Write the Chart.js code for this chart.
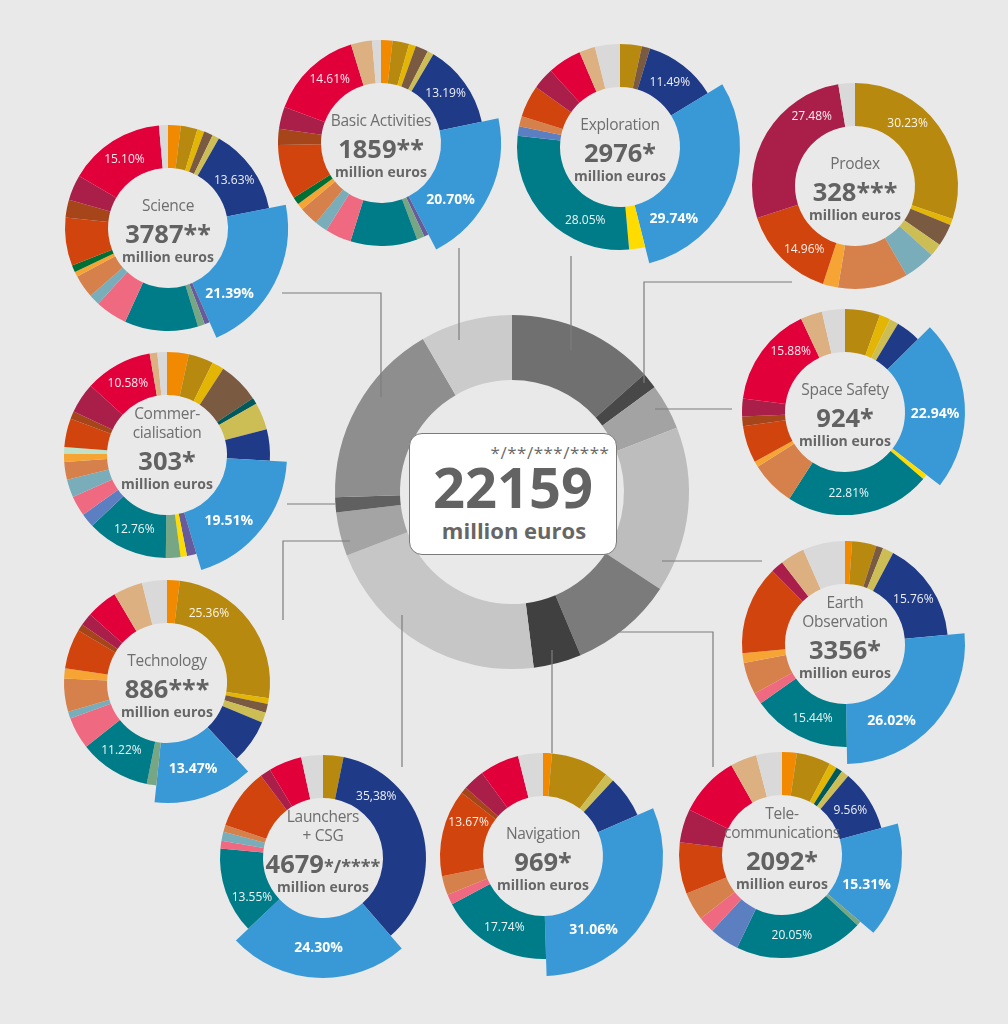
<!DOCTYPE html>
<html>
<head>
<meta charset="utf-8">
<script src="https://cdn.jsdelivr.net/npm/chart.js@4/dist/chart.umd.min.js"></script>
<style>
  body { margin: 0; background: #e9e9e9; font-family: "Open Sans", "Noto Sans", sans-serif; }
  #wrap { position: relative; width: 1008px; height: 1024px; overflow: hidden; background: #e9e9e9; }
  canvas { position: absolute; }
  svg { position: absolute; left: 0; top: 0; }
  .t { position: absolute; transform: translate(-50%, -50%); white-space: nowrap; line-height: 1; color: #666; }
  #box { position: absolute; left: 409px; top: 433px; width: 206px; height: 120px; background: #fff;
         border: 1.5px solid #7a7a7a; border-radius: 13px; }
</style>
</head>
<body>
<div id="wrap"></div>
<script>
// contributors, in the order they go round every ring (clockwise from the top)
const contributors = Array.from({ length: 25 }, (_, i) => 'Contributor ' + (i + 1));

// domain totals, million euros (central ring)
const domainNames = ['Exploration', 'Prodex', 'Space Safety', 'Earth Observation', 'Telecommunications',
  'Navigation', 'Launchers + CSG', 'Technology', 'Commercialisation', 'Science', 'Basic Activities'];
const domainBudgets = [2976, 328, 924, 3356, 2092, 969, 4679, 886, 303, 3787, 1859];
const domainMarks = ['*', '***', '*', '*', '*', '*', '*/****', '***', '*', '**', '**'];
const grandTotal = 22159;

// shares per contributor (%) for each domain
const science =           [2.0, 2.6, 1.1, 1.4, 0, 1.1, 13.63, 21.39, 0.8, 0, 1.1, 11.5, 0, 5.0, 1.7, 3.6, 0.8, 0, 1.1, 7.5, 2.8, 4.0, 15.10, 0, 1.4];
const basicActivities =   [1.8, 2.6, 1.1, 2.0, 0, 1.0, 13.19, 20.70, 0.7, 0, 1.2, 10.5, 0, 4.1, 2.0, 3.0, 1.0, 0, 1.2, 8.6, 2.5, 3.5, 14.61, 3.3, 1.4];
const exploration =       [0, 3.4, 0, 1.3, 0, 0, 11.49, 29.74, 0, 2.5, 0, 28.05, 1.5, 0, 0, 1.6, 0, 0, 0, 5.0, 0, 3.4, 5.3, 2.5, 3.9];
const prodex =            [0, 30.23, 1.0, 3.5, 0, 2.0, 0, 0, 0, 0, 0, 0, 0, 0, 5.0, 11.0, 2.4, 0, 0, 14.96, 0, 27.48, 0, 0, 2.6];
const spaceSafety =       [0, 5.5, 1.7, 0, 0, 1.4, 3.9, 22.94, 0, 0.8, 0, 22.81, 0, 0, 0, 7.0, 0.9, 0, 0, 5.8, 1.5, 2.8, 15.88, 3.4, 3.6];
const earthObservation =  [1.1, 3.8, 0, 1.1, 0, 1.7, 15.76, 26.02, 0, 0, 0, 15.44, 0, 1.8, 0, 5.0, 1.5, 0, 0, 13.9, 0, 2.0, 0, 3.8, 6.6];
const telecommunications =[2.3, 5.3, 1.2, 0, 1.0, 1.2, 9.56, 15.31, 0, 0, 0.7, 20.05, 4.6, 2.6, 0, 4.4, 0, 0, 0, 8.0, 0, 5.2, 9.5, 4.1, 4.0];
const navigation =        [1.4, 9.1, 0, 0, 0, 1.4, 6.6, 31.06, 0, 0, 0, 17.74, 0, 1.6, 0, 3.0, 0, 0, 0, 13.67, 1.0, 3.4, 6.2, 0, 3.9];
const launchers =         [0, 3.2, 0, 0, 0, 0, 35.38, 24.30, 0, 0, 0, 13.55, 0, 1.2, 1.4, 1.1, 0, 0, 0, 9.5, 0, 1.7, 5.2, 0, 3.4];
const technology =        [2.0, 25.36, 0.9, 1.4, 0, 1.6, 6.9, 13.47, 0, 0, 1.5, 11.22, 0, 5.0, 1.1, 5.2, 1.6, 0, 0, 6.2, 1.1, 2.0, 4.9, 4.6, 3.9];
const commercialisation = [3.4, 3.9, 1.9, 6.5, 1.0, 4.3, 4.9, 19.51, 1.5, 1.0, 2.3, 12.76, 2.2, 3.2, 2.8, 2.8, 1.3, 1.0, 0, 4.5, 1.2, 4.8, 10.58, 1.2, 1.5];

// colours
const contribColors = ['#f18a00', '#b8890f', '#e3b505', '#7b5a42', '#00595b', '#cdbd55', '#1f3a87', '#3999d6',
  '#675b9b', '#ffdc00', '#76a683', '#007c88', '#5b7fc1', '#ef6a80', '#79adba', '#d6804b', '#f6a534',
  '#bfe2cb', '#006f34', '#d1440d', '#a6441a', '#aa1f4a', '#e2003b', '#dcb081', '#d9d9d9'];
const ringGreys = ['#707070', '#484848', '#a3a3a3', '#bdbdbd', '#7b7b7b', '#404040', '#c6c6c6', '#a4a4a4', '#606060', '#8e8e8e', '#cbcbcb'];
const HIGHLIGHT = 7;

// where each small ring goes, its title lines and which slices get a label ([index, place along slice, decimal sign])
const rings = [
  { d: 9,  data: science,            title: ['Science'],                 x: 168, y: 228, labels: [[6, .5], [7, .75], [22, .5]] },
  { d: 10, data: basicActivities,    title: ['Basic Activities'],        x: 381, y: 143, labels: [[6, .46], [7, .69], [22, .58]] },
  { d: 0,  data: exploration,        title: ['Exploration'],             x: 620, y: 147, labels: [[6, .5], [7, .79], [11, .3]] },
  { d: 1,  data: prodex,             title: ['Prodex'],                  x: 855, y: 186, labels: [[1, .37], [19, .38], [21, .77]] },
  { d: 2,  data: spaceSafety,        title: ['Space Safety'],            x: 845, y: 412, labels: [[7, .56], [11, .57], [22, .71]] },
  { d: 3,  data: earthObservation,   title: ['Earth', 'Observation'],    x: 845, y: 644, labels: [[6, .51], [7, .68], [11, .44]] },
  { d: 4,  data: telecommunications, title: ['Tele-', 'communications'], x: 782, y: 855, labels: [[6, .49], [7, .63], [11, .55]] },
  { d: 5,  data: navigation,         title: ['Navigation'],              x: 543, y: 856, labels: [[7, .71], [11, .47], [19, .72]] },
  { d: 6,  data: launchers,          title: ['Launchers', '+ CSG'],      x: 323, y: 858, labels: [[6, .23, ','], [7, .5], [11, .29]] },
  { d: 7,  data: technology,         title: ['Technology'],              x: 167, y: 683, labels: [[1, .26], [7, .53], [11, .56]] },
  { d: 8,  data: commercialisation,  title: ['Commer-', 'cialisation'],  x: 167, y: 455, labels: [[7, .62], [11, .5], [22, .5]] }
];

const wrap = document.getElementById('wrap');

function addCanvas(cx, cy, size) {
  const c = document.createElement('canvas');
  c.width = size; c.height = size;
  c.style.left = (cx - size / 2) + 'px';
  c.style.top = (cy - size / 2) + 'px';
  wrap.appendChild(c);
  return c;
}

function addText(x, y, html, css) {
  const d = document.createElement('div');
  d.className = 't';
  d.style.left = x + 'px';
  d.style.top = y + 'px';
  d.innerHTML = html;
  Object.assign(d.style, css || {});
  wrap.appendChild(d);
  return d;
}

// pulls the highlighted slice further out
const highlightPlugin = {
  id: 'highlight',
  beforeDatasetsDraw(chart, args, opts) {
    if (opts.index == null) return;
    const meta = chart.getDatasetMeta(0);
    const el = meta.data[opts.index];
    if (el) el.outerRadius = meta.controller.outerRadius + opts.extra;
  }
};

// percentage labels on slices
const sliceLabelPlugin = {
  id: 'sliceLabels',
  afterDatasetsDraw(chart, args, opts) {
    const items = opts.items || [];
    const ctx = chart.ctx;
    const meta = chart.getDatasetMeta(0);
    const values = chart.data.datasets[0].data;
    ctx.save();
    ctx.textAlign = 'center';
    ctx.textBaseline = 'middle';
    items.forEach(function (it) {
      const i = it[0], f = it[1];
      const el = meta.data[i];
      const a = el.startAngle + (el.endAngle - el.startAngle) * f;
      const r = (el.innerRadius + el.outerRadius) / 2;
      const bold = i === opts.bold;
      let txt = values[i].toFixed(2);
      if (it[2]) txt = txt.replace('.', it[2]);
      txt += '%';
      ctx.fillStyle = bold ? '#ffffff' : 'rgba(255,255,255,0.92)';
      ctx.font = bold ? 'bold 14px "Open Sans"' : '12px "Open Sans"';
      ctx.fillText(txt, el.x + Math.cos(a) * r, el.y + Math.sin(a) * r);
    });
    ctx.restore();
  }
};

// central ring
new Chart(addCanvas(512, 492, 380), {
  type: 'doughnut',
  data: { labels: domainNames, datasets: [{ data: domainBudgets, backgroundColor: ringGreys, borderWidth: 0 }] },
  options: {
    responsive: false, animation: false, radius: 177, cutout: (112 / 177 * 100) + '%',
    plugins: { legend: { display: false }, tooltip: { enabled: false } },
    events: []
  }
});

// connector lines
const links = [
  [[282, 293], [381, 293], [381, 397]],
  [[459, 248], [459, 340]],
  [[571, 256], [571, 350]],
  [[792, 282], [644, 282], [644, 383]],
  [[655, 409], [732, 409]],
  [[662, 561], [762, 561]],
  [[602, 632], [713, 632], [713, 767]],
  [[552, 650], [552, 753]],
  [[402, 615], [402, 767]],
  [[350, 541], [283, 541], [283, 620]],
  [[335, 504], [287, 504]]
];
const ns = 'http://www.w3.org/2000/svg';
const svg = document.createElementNS(ns, 'svg');
svg.setAttribute('width', 1008); svg.setAttribute('height', 1024);
links.forEach(function (pts) {
  const p = document.createElementNS(ns, 'polyline');
  p.setAttribute('points', pts.map(q => q.join(',')).join(' '));
  p.setAttribute('fill', 'none');
  p.setAttribute('stroke', '#7d7d7d');
  p.setAttribute('stroke-width', '1.2');
  svg.appendChild(p);
});
wrap.appendChild(svg);

// centre box
const box = document.createElement('div');
box.id = 'box';
wrap.appendChild(box);
addText(550, 452, '*/**/***/****', { fontSize: '17px', color: '#6a6a6a', letterSpacing: '0.5px' });
addText(513, 486, String(grandTotal), { fontSize: '56px', fontWeight: 'bold', color: '#636363' });
addText(514, 530, 'million euros', { fontSize: '22px', fontWeight: 'bold', color: '#666' });

// small rings
rings.forEach(function (rg) {
  const hasHi = rg.data[HIGHLIGHT] > 0;
  new Chart(addCanvas(rg.x, rg.y, 280), {
    type: 'doughnut',
    data: {
      labels: contributors,
      datasets: [{ data: rg.data, backgroundColor: contribColors, borderWidth: 0 }]
    },
    options: {
      responsive: false, animation: false, radius: 103, cutout: (60 / 103 * 100) + '%',
      events: [],
      plugins: {
        legend: { display: false }, tooltip: { enabled: false },
        highlight: { index: hasHi ? HIGHLIGHT : null, extra: 17 },
        sliceLabels: { items: rg.labels, bold: HIGHLIGHT }
      }
    },
    plugins: [highlightPlugin, sliceLabelPlugin]
  });

  const n = rg.title.length;
  rg.title.forEach(function (line, k) {
    addText(rg.x, rg.y - 22 - (n - 1 - k) * 19, line,
      { fontSize: '15.5px', letterSpacing: '-0.3px', color: '#6e6e6e' });
  });
  const marks = domainMarks[rg.d];
  const markSize = marks.length > 3 ? '18px' : '25px';
  addText(rg.x, rg.y + 6, domainBudgets[rg.d] + '<span style="font-size:' + markSize + '">' + marks + '</span>',
    { fontSize: '25.5px', fontWeight: 'bold', color: '#626262' });
  addText(rg.x, rg.y + 29, 'million euros', { fontSize: '14px', fontWeight: 'bold', color: '#666' });
});
</script>
</body>
</html>
